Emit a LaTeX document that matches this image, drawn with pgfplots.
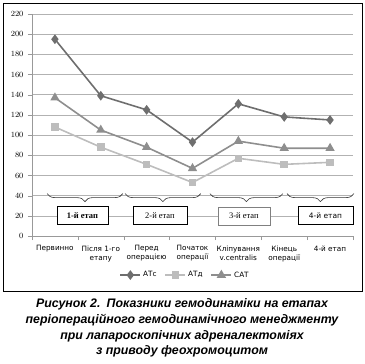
\documentclass[border=0pt]{standalone}
\usepackage{fontspec}
\setmainfont{Liberation Sans}
\newfontfamily\tickfont{DejaVu Sans}
\newfontfamily\seriffont{Liberation Serif}
\usepackage{pgfplots}
\pgfplotsset{compat=1.18}
\usetikzlibrary{decorations.pathreplacing}
\definecolor{atc}{HTML}{6E6E6E}
\definecolor{atd}{HTML}{BDBDBD}
\definecolor{sat}{HTML}{8E8E8E}
\begin{document}
\begin{tikzpicture}[x=1bp,y=1bp]
\begin{axis}[
  at={(0,0)}, anchor=south west,
  scale only axis, width=321bp, height=222bp,
  xmin=-0.5, xmax=6.5, ymin=0, ymax=220,
  clip=false,
  axis lines=left,
  axis line style={draw=gray!80, -},
  ytick={0,20,...,220},
  ymajorgrids,
  grid style={draw=gray!60, line width=0.6pt},
  xtick={0,...,6},
  xticklabels={Первинно, {Після 1-го\\етапу}, {Перед\\операцією}, {Початок\\операції}, {Кліпування\\v.centralis}, {Кінець\\операції}, {4-й етап}},
  major x tick style={draw=none},
  minor xtick={-0.5,0.5,...,6.5},
  minor x tick style={draw=gray!80},
  y tick style={draw=gray!80},
  tick align=outside,
  major tick length=4bp, minor tick length=4bp,
  xticklabel style={font=\tickfont\fontsize{7.3}{9}\selectfont, align=center, yshift=-2bp},
  yticklabel style={font=\tickfont\bfseries\fontsize{7.6}{8}\selectfont, xshift=-1bp},
  legend columns=3,
  legend style={draw=none, fill=none, at={(0.477,-0.176)}, anchor=center,
    font=\tickfont\fontsize{7.3}{8}\selectfont,
    /tikz/every even column/.append style={column sep=6bp}},
  legend image code/.code={\draw[#1] (0bp,0bp) -- (20bp,0bp); \draw[#1, mark repeat=1] plot coordinates {(10bp,0bp)};},
]
\addplot[color=atc, line width=1.6pt, mark=diamond*, mark size=3.6bp, mark options={solid}] coordinates {(0,195)(1,139)(2,125)(3,93)(4,131)(5,118)(6,115)};
\addlegendentry{АТс}
\addplot[color=atd, line width=1.6pt, mark=square*, mark size=3bp, mark options={solid}] coordinates {(0,108)(1,88)(2,71)(3,53)(4,77)(5,71)(6,73)};
\addlegendentry{АТд}
\addplot[color=sat, line width=1.6pt, mark=triangle*, mark size=3.8bp, mark options={solid}] coordinates {(0,137)(1,105)(2,88)(3,67)(4,94)(5,87)(6,87)};
\addlegendentry{САТ}
\draw[gray!40!black, line width=0.6pt, decorate, decoration={brace, mirror, amplitude=8bp}] (axis cs:-0.17,42) -- (axis cs:1.48,42);
\draw[gray!40!black, line width=0.6pt, decorate, decoration={brace, mirror, amplitude=8bp}] (axis cs:1.53,42) -- (axis cs:3.18,42);
\draw[gray!40!black, line width=0.6pt, decorate, decoration={brace, mirror, amplitude=8bp}] (axis cs:3.38,42) -- (axis cs:4.97,42);
\draw[gray!40!black, line width=0.6pt, decorate, decoration={brace, mirror, amplitude=8bp}] (axis cs:5.06,42) -- (axis cs:6.52,42);
\node[draw=black, line width=0.8pt, fill=white, minimum width=51bp, minimum height=18bp, inner sep=1bp, font=\seriffont\bfseries\fontsize{8.5}{9}\selectfont] at (axis cs:0.60,20) {1-й етап};
\node[draw=black, line width=0.7pt, fill=white, minimum width=54bp, minimum height=18bp, inner sep=1bp, font=\seriffont\fontsize{8.5}{9}\selectfont] at (axis cs:2.29,20) {2-й етап};
\node[draw=gray, line width=0.6pt, fill=white, minimum width=52bp, minimum height=18bp, inner sep=1bp, font=\seriffont\fontsize{8.5}{9}\selectfont] at (axis cs:4.12,20) {3-й етап};
\node[draw=black, line width=0.7pt, fill=white, minimum width=55bp, minimum height=18bp, inner sep=1bp, font=\tickfont\fontsize{7.5}{9}\selectfont] at (axis cs:5.90,20) {4-й етап};
\end{axis}
\draw[line width=0.8pt] (-29,233) rectangle (330,-55);
\node[align=center, anchor=north, inner sep=0pt, font=\bfseries\itshape\fontsize{12.4}{16}\selectfont] at (150,-62) {Рисунок 2.\hspace{0.5em}Показники гемодинаміки на етапах\\періопераційного гемодинамічного менеджменту\\при лапароскопічних адреналектоміях\\з приводу феохромоцитом};
\pgfresetboundingbox
\path (-32,236) rectangle (333,-128);
\end{tikzpicture}
\end{document}
